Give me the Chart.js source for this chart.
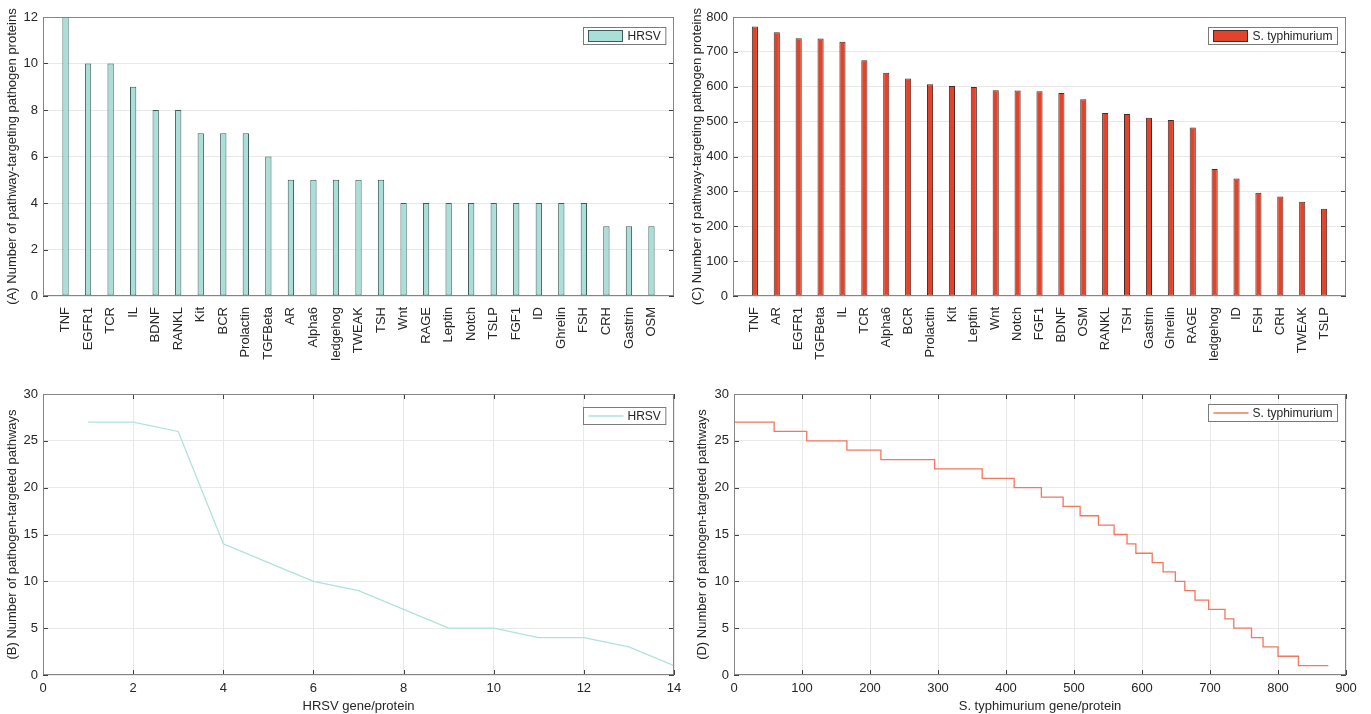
<!DOCTYPE html>
<html>
<head>
<meta charset="utf-8">
<script src="https://cdn.jsdelivr.net/npm/chart.js@4"></script>
<style>
  body { margin: 0; background: #fff; }
  .panel { position: absolute; }
</style>
</head>
<body>
<canvas class="panel" id="chart-a" width="690" height="360" style="left:0;top:0"></canvas>
<canvas class="panel" id="chart-c" width="681" height="360" style="left:690px;top:0"></canvas>
<canvas class="panel" id="chart-b" width="690" height="354" style="left:0;top:360px"></canvas>
<canvas class="panel" id="chart-d" width="681" height="354" style="left:690px;top:360px"></canvas>
<script>
// (A) HRSV - pathway-targeting pathogen proteins per pathway
const hrsvPathways = ['TNF', 'EGFR1', 'TCR', 'IL', 'BDNF', 'RANKL', 'Kit', 'BCR', 'Prolactin', 'TGFBeta', 'AR', 'Alpha6', 'Hedgehog', 'TWEAK', 'TSH', 'Wnt', 'RAGE', 'Leptin', 'Notch', 'TSLP', 'FGF1', 'ID', 'Ghrelin', 'FSH', 'CRH', 'Gastrin', 'OSM'];
const hrsvProteins = [12, 10, 10, 9, 8, 8, 7, 7, 7, 6, 5, 5, 5, 5, 5, 4, 4, 4, 4, 4, 4, 4, 4, 4, 3, 3, 3];

// (C) S. typhimurium - pathway-targeting pathogen proteins per pathway
const styPathways = ['TNF', 'AR', 'EGFR1', 'TGFBeta', 'IL', 'TCR', 'Alpha6', 'BCR', 'Prolactin', 'Kit', 'Leptin', 'Wnt', 'Notch', 'FGF1', 'BDNF', 'OSM', 'RANKL', 'TSH', 'Gastrin', 'Ghrelin', 'RAGE', 'Hedgehog', 'ID', 'FSH', 'CRH', 'TWEAK', 'TSLP'];
const styProteins = [773, 756, 739, 738, 729, 676, 640, 624, 607, 602, 599, 590, 589, 587, 582, 564, 525, 522, 511, 505, 483, 364, 337, 296, 285, 270, 250];

// (B) HRSV gene/protein vs number of targeted pathways
const hrsvGeneIdx = [1, 2, 3, 4, 5, 6, 7, 8, 9, 10, 11, 12, 13, 14];
const hrsvTargeted = [27, 27, 26, 14, 12, 10, 9, 7, 5, 5, 4, 4, 3, 1];

// (D) S. typhimurium gene/protein (step curve: x where each level starts)
const styGeneIdx = [0, 59, 107, 166, 216, 295, 365, 412, 452, 484, 509, 536, 559, 578, 591, 615, 631, 649, 663, 678, 698, 722, 735, 761, 778, 800, 830, 874];
const styTargeted = [27, 26, 25, 24, 23, 22, 21, 20, 19, 18, 17, 16, 15, 14, 13, 12, 11, 10, 9, 8, 7, 6, 5, 4, 3, 2, 1, 1];

const textColor = '#262626';
const gridColor = '#e8e8e8';
const fontMain = "'Liberation Sans', Arial, sans-serif";

Chart.defaults.color = textColor;
Chart.defaults.animation = false;

// MATLAB style box, inward ticks and boxed legend
const matlabFrame = {
    id: 'matlabFrame',
    afterDatasetsDraw(chart, args, opts) {
        const {ctx, chartArea: a, scales} = chart;
        ctx.save();
        ctx.lineWidth = 1;
        ctx.strokeStyle = '#404040';
        ctx.beginPath();
        scales.y.ticks.forEach(t => {
            const y = Math.round(scales.y.getPixelForValue(t.value)) + 0.5;
            ctx.moveTo(a.left, y); ctx.lineTo(a.left + 5, y);
            ctx.moveTo(a.right - 5, y); ctx.lineTo(a.right, y);
        });
        if (opts.xTicks) {
            scales.x.ticks.forEach(t => {
                const x = Math.round(scales.x.getPixelForValue(t.value)) + 0.5;
                ctx.moveTo(x, a.bottom); ctx.lineTo(x, a.bottom - 5);
                ctx.moveTo(x, a.top); ctx.lineTo(x, a.top + 5);
            });
        }
        ctx.stroke();
        ctx.strokeStyle = '#858585';
        ctx.strokeRect(Math.round(a.left) + 0.5, Math.round(a.top) + 0.5, Math.round(a.width) - 1, Math.round(a.height) - 1);

        // legend box
        const ds = chart.data.datasets[0];
        ctx.font = '12px ' + fontMain;
        const tw = ctx.measureText(ds.label).width;
        const h = opts.legendH || 17;
        const w = 5 + 35 + 4 + tw + 5;
        const lx = Math.round(a.right - 9 - w) + 0.5;
        const ly = Math.round(a.top + (opts.legendTop || 10)) + 0.5;
        ctx.fillStyle = '#fff';
        ctx.fillRect(lx, ly, w, h);
        ctx.strokeStyle = '#7a7a7a';
        ctx.strokeRect(lx, ly, w, h);
        if (opts.swatch === 'bar') {
            ctx.fillStyle = ds.backgroundColor;
            ctx.fillRect(lx + 5, ly + 3, 34, h - 6);
            ctx.strokeStyle = ds.borderColor;
            ctx.strokeRect(lx + 5, ly + 3, 34, h - 6);
        } else {
            ctx.strokeStyle = ds.borderColor;
            ctx.lineWidth = 1.3;
            ctx.beginPath();
            ctx.moveTo(lx + 5, ly + h / 2);
            ctx.lineTo(lx + 40, ly + h / 2);
            ctx.stroke();
        }
        ctx.fillStyle = textColor;
        ctx.textBaseline = 'middle';
        ctx.fillText(ds.label, lx + 44, ly + h / 2 + 0.5);
        ctx.restore();
    }
};

function barChart(id, label, names, values, yMax, yStep, yTitle, fill, border, yWidth, rightPad, titlePad) {
    return new Chart(document.getElementById(id), {
        type: 'bar',
        data: {
            datasets: [{
                label: label,
                data: values.map((v, i) => ({x: i + 1, y: v})),
                backgroundColor: fill,
                borderColor: border,
                borderWidth: 1,
                borderSkipped: false,
                barPercentage: 0.28,
                categoryPercentage: 1
            }]
        },
        options: {
            responsive: false,
            layout: {padding: {top: 17, right: rightPad, left: 0, bottom: 0}},
            scales: {
                x: {
                    type: 'linear',
                    offset: false,
                    min: 0,
                    max: names.length + 1,
                    grid: {display: false, offset: false},
                    border: {display: false},
                    afterFit: s => { s.height = 64; },
                    afterBuildTicks: s => { s.ticks = names.map((n, i) => ({value: i + 1})); },
                    ticks: {
                        autoSkip: false,
                        minRotation: 90,
                        maxRotation: 90,
                        padding: 3,
                        font: {family: fontMain, size: 13},
                        callback: v => names[v - 1]
                    }
                },
                y: {
                    min: 0,
                    max: yMax,
                    grid: {color: gridColor, drawTicks: false},
                    border: {display: false},
                    afterFit: s => { s.width = yWidth; },
                    ticks: {stepSize: yStep, padding: 5, font: {family: fontMain, size: 13}},
                    title: {display: true, text: yTitle, padding: {top: titlePad, bottom: 0}, font: {family: fontMain, size: 13}}
                }
            },
            plugins: {
                legend: {display: false},
                tooltip: {enabled: false},
                matlabFrame: {swatch: 'bar', legendTop: 10, legendH: 17}
            }
        },
        plugins: [matlabFrame]
    });
}

function lineChart(id, label, xs, ys, xMax, xStep, xTitle, yTitle, color, stepped, yWidth, rightPad, legendTop) {
    return new Chart(document.getElementById(id), {
        type: 'line',
        data: {
            datasets: [{
                label: label,
                data: xs.map((x, i) => ({x: x, y: ys[i]})),
                borderColor: color,
                borderWidth: 1.3,
                pointRadius: 0,
                tension: 0,
                stepped: stepped
            }]
        },
        options: {
            responsive: false,
            layout: {padding: {top: 34, right: rightPad, left: 0, bottom: 0}},
            scales: {
                x: {
                    type: 'linear',
                    min: 0,
                    max: xMax,
                    grid: {color: gridColor, drawTicks: false},
                    border: {display: false},
                    afterFit: s => { s.height = 39; },
                    ticks: {stepSize: xStep, padding: 6, maxRotation: 0, font: {family: fontMain, size: 13}},
                    title: {display: true, text: xTitle, padding: {top: 1, bottom: 0}, font: {family: fontMain, size: 13}}
                },
                y: {
                    min: 0,
                    max: 30,
                    grid: {color: gridColor, drawTicks: false},
                    border: {display: false},
                    afterFit: s => { s.width = yWidth; },
                    ticks: {stepSize: 5, padding: 5, font: {family: fontMain, size: 13}},
                    title: {display: true, text: yTitle, padding: {top: 5, bottom: 0}, font: {family: fontMain, size: 13}}
                }
            },
            plugins: {
                legend: {display: false},
                tooltip: {enabled: false},
                matlabFrame: {swatch: 'line', xTicks: true, legendTop: legendTop, legendH: 17}
            }
        },
        plugins: [matlabFrame]
    });
}

barChart('chart-a', 'HRSV', hrsvPathways, hrsvProteins, 12, 2,
    '(A) Number of pathway-targeting pathogen proteins', '#a9dfd8', '#3e5c58', 43, 16, 5);

barChart('chart-c', 'S. typhimurium', styPathways, styProteins, 800, 100,
    '(C) Number of pathway-targeting pathogen proteins', '#e4432b', '#4a2a24', 43, 25, 0);

lineChart('chart-b', 'HRSV', hrsvGeneIdx, hrsvTargeted, 14, 2, 'HRSV gene/protein',
    '(B) Number of pathogen-targeted pathways', '#ade3dc', false, 43, 16, 13);

lineChart('chart-d', 'S. typhimurium', styGeneIdx, styTargeted, 900, 100, 'S. typhimurium gene/protein',
    '(D) Number of pathogen-targeted pathways', '#f2775f', 'before', 44, 25, 10);
</script>
</body>
</html>
